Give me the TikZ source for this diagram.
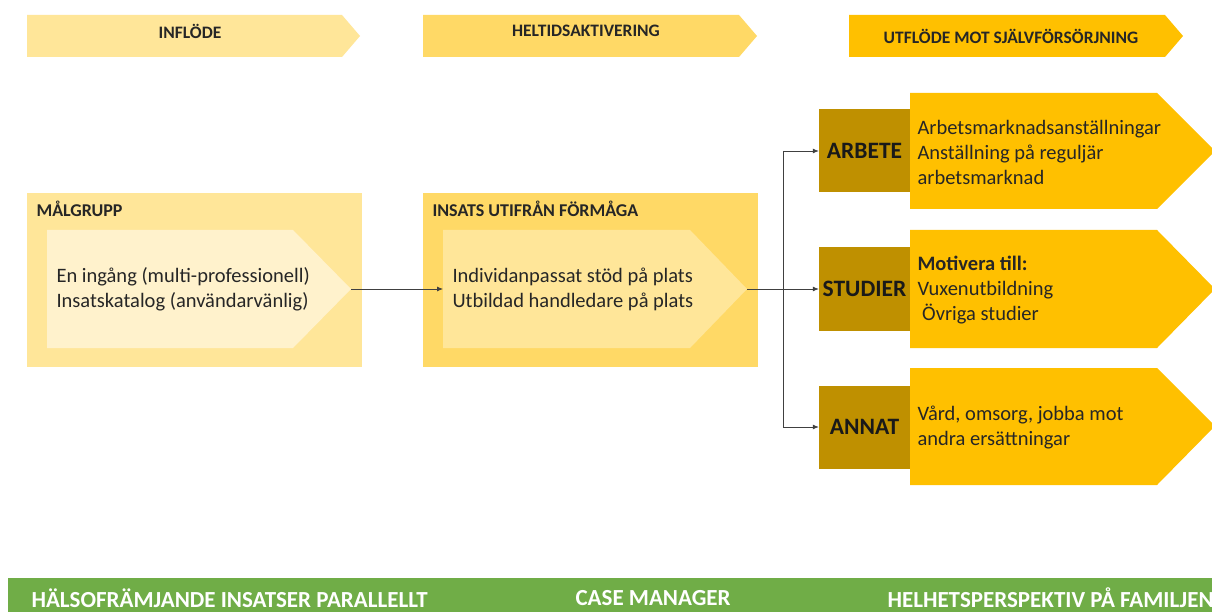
\documentclass[tikz,border=0pt]{standalone}
\usepackage{fontspec}
\setmainfont{Carlito}
\usetikzlibrary{arrows.meta}
\definecolor{hdrA}{HTML}{FFE699}
\definecolor{hdrB}{HTML}{FFD966}
\definecolor{hdrC}{HTML}{FFC000}
\definecolor{boxA}{HTML}{FFE699}
\definecolor{innA}{HTML}{FFF2CC}
\definecolor{boxB}{HTML}{FFD966}
\definecolor{innB}{HTML}{FFE699}
\definecolor{darkgold}{HTML}{BF9000}
\definecolor{outc}{HTML}{FFC000}
\definecolor{greenbar}{HTML}{70AD47}
\tikzset{
  hdrtext/.style={font=\fontsize{17.5}{19}\selectfont\bfseries, text=black!85},
  boxtitle/.style={font=\fontsize{18}{20}\selectfont\bfseries, anchor=west, text=black!85},
  bodytext/.style={font=\fontsize{20.5}{25}\selectfont, anchor=west, align=left, text=black!85},
  darklabel/.style={font=\fontsize{23.5}{25}\selectfont\bfseries, text=black!90},
  barlabel/.style={font=\fontsize{23}{25}\selectfont\bfseries, text=white, anchor=west},
  conn/.style={draw=black!75, line width=0.8pt, -{Latex[length=6pt,width=5pt]}},
  connline/.style={draw=black!75, line width=0.8pt},
}
\begin{document}
\begin{tikzpicture}[x=1pt,y=-1pt]
\useasboundingbox (0,0) rectangle (1212,612);
\clip (0,0) rectangle (1212,612);
\fill[white] (0,0) rectangle (1212,612);

% top header arrows
\fill[hdrA] (27,15) -- (342,15) -- (360,36) -- (342,57) -- (27,57) -- cycle;
\node[hdrtext] (h1) at (190,31) {INFLÖDE};
\fill[hdrB] (423,15) -- (739,15) -- (757,36) -- (739,57) -- (423,57) -- cycle;
\node[hdrtext] (h2) at (586,31) {HELTIDSAKTIVERING};
\fill[hdrC] (849,15) -- (1165,15) -- (1183,36) -- (1165,57) -- (849,57) -- cycle;
\node[hdrtext] (h3) at (1011,36) {UTFLÖDE MOT SJÄLVFÖRSÖRJNING};

% Malgrupp box
\fill[boxA] (27,193) rectangle (362,367);
\node[boxtitle] (t1) at (33,209) {MÅLGRUPP};
\fill[innA] (47,230) -- (293,230) -- (351,289) -- (293,348) -- (47,348) -- cycle;
\coordinate (mtip) at (351,289);
\node[bodytext] (b1) at (53,289) {En ingång (multi-professionell)\\Insatskatalog (användarvänlig)};

% Insats box
\fill[boxB] (423,193) rectangle (758,367);
\node[boxtitle] (t2) at (429,209) {INSATS UTIFRÅN FÖRMÅGA};
\fill[innB] (443,230) -- (690,230) -- (747,289) -- (690,348) -- (443,348) -- cycle;
\coordinate (iin) at (443,289);
\coordinate (itip) at (747,289);
\node[bodytext] (b2) at (449,289) {Individanpassat stöd på plats\\Utbildad handledare på plats};

% Output arrows
\fill[outc] (910,93) -- (1157,93) -- (1215,151) -- (1157,209) -- (910,209) -- cycle;
\fill[outc] (910,230) -- (1157,230) -- (1215,289) -- (1157,348) -- (910,348) -- cycle;
\fill[outc] (910,368) -- (1157,368) -- (1215,426) -- (1157,485) -- (910,485) -- cycle;

\node[fill=darkgold, minimum width=91pt, minimum height=83pt, inner sep=0pt, darklabel] (arb) at (864.5,151) {ARBETE};
\node[fill=darkgold, minimum width=91pt, minimum height=83pt, inner sep=0pt, darklabel] (stu) at (864.5,289) {STUDIER};
\node[fill=darkgold, minimum width=91pt, minimum height=83pt, inner sep=0pt, darklabel] (ann) at (864.5,427) {ANNAT};

\node[bodytext] (o1) at (914,152) {Arbetsmarknadsanställningar\\Anställning på reguljär\\arbetsmarknad};
\node[bodytext] (o2) at (914,290) {\textbf{Motivera till:}\\Vuxenutbildning\\\ Övriga studier};
\node[bodytext] (o3) at (914,427) {Vård, omsorg, jobba mot\\andra ersättningar};

% connectors
\draw[conn] (mtip) -- (iin);
\coordinate (split) at (783,289);
\draw[connline] (itip) -- (split);
\draw[connline] (split |- arb.west) -- (split |- ann.west);
\draw[conn] (split |- arb.west) -- (arb.west);
\draw[conn] (split) -- (stu.west);
\draw[conn] (split |- ann.west) -- (ann.west);

% bottom green bar
\fill[greenbar] (8,578) rectangle (1212,612);
\node[barlabel] (g1) at (28,598) {HÄLSOFRÄMJANDE INSATSER PARALLELLT};
\node[barlabel] (g2) at (572,598) {CASE MANAGER};
\node[barlabel] (g3) at (884,598) {HELHETSPERSPEKTIV PÅ FAMILJEN};
\end{tikzpicture}
\end{document}
